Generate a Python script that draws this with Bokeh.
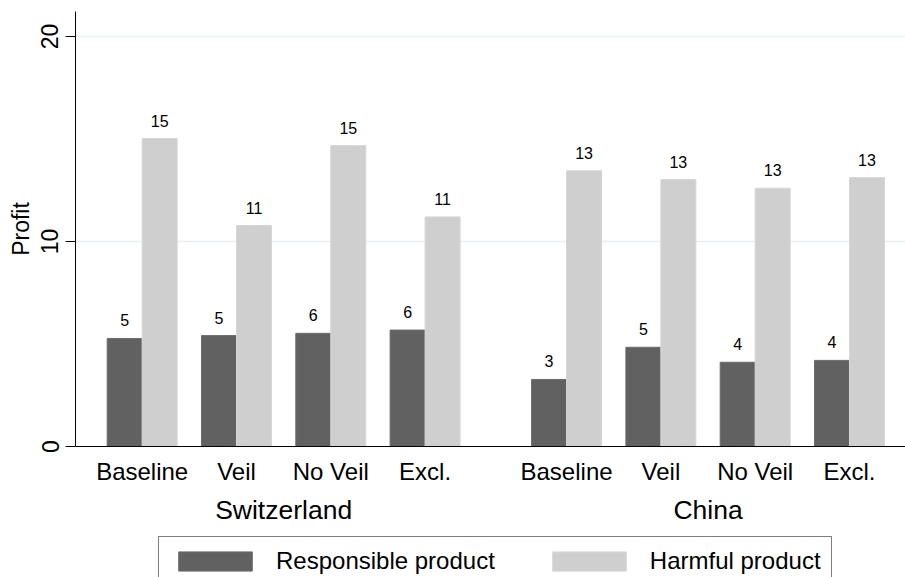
from bokeh.plotting import figure
from bokeh.models import (ColumnDataSource, FixedTicker, LinearAxis, Range1d,
                          Legend, LegendItem, LabelSet)
from bokeh.layouts import column
from bokeh.core.properties import value
from bokeh.embed import file_html
from bokeh.resources import INLINE

# ---- data ----
countries = ["Switzerland", "China"]
treatments = ["Baseline", "Veil", "No Veil", "Excl."]
responsible_switzerland = [5.27, 5.41, 5.52, 5.68]
responsible_china = [3.27, 4.84, 4.11, 4.20]
harmful_switzerland = [15.02, 10.78, 14.68, 11.20]
harmful_china = [13.45, 13.02, 12.60, 13.12]
series_names = ["Responsible product", "Harmful product"]
y_ticks = [0, 10, 20]

FONT = "Liberation Sans"
DARK = "#616161"
LIGHT = "#cfcfcf"

n = len(treatments)
gap = 0.5
bar_w = 0.371
pos = [i + g * (n + gap) for g in range(len(countries)) for i in range(n)]
group_centers = [g * (n + gap) + (n - 1) / 2 for g in range(len(countries))]
responsible = responsible_switzerland + responsible_china
harmful = harmful_switzerland + harmful_china

src_r = ColumnDataSource(dict(
    x=[p - bar_w / 2 for p in pos], top=responsible,
    lab=["{:.0f}".format(v) for v in responsible]))
src_h = ColumnDataSource(dict(
    x=[p + bar_w / 2 for p in pos], top=harmful,
    lab=["{:.0f}".format(v) for v in harmful]))

p = figure(width=905, height=536, output_backend="svg", toolbar_location=None,
           x_range=Range1d(-0.707, 8.094), y_range=Range1d(0, 21.22),
           min_border_left=75, min_border_right=0, min_border_top=11,
           min_border_bottom=90)
p.outline_line_color = None
p.background_fill_color = "white"
p.border_fill_color = "white"

p.vbar(x="x", top="top", bottom=0, width=bar_w, source=src_r,
       fill_color=DARK, line_color="#6c6c6c", line_width=1)
p.vbar(x="x", top="top", bottom=0, width=bar_w, source=src_h,
       fill_color=LIGHT, line_color="#d6d6d6", line_width=1)

for s in (src_r, src_h):
    p.add_layout(LabelSet(x="x", y="top", text="lab", source=s,
                          text_align="center", text_baseline="alphabetic",
                          y_offset=12, text_font=value(FONT),
                          text_font_size=value("16px"),
                          text_color="black"))

# grid
p.xgrid.visible = False
p.ygrid.ticker = FixedTicker(ticks=y_ticks)
p.ygrid.grid_line_color = "#e8f0f2"
p.ygrid.grid_line_width = 1.5

# y axis
ya = p.yaxis[0]
ya.ticker = FixedTicker(ticks=y_ticks)
ya.axis_label = "Profit"
ya.axis_label_text_font = FONT
ya.axis_label_text_font_size = "23px"
ya.axis_label_text_font_style = "normal"
ya.axis_label_text_color = "black"
ya.axis_label_standoff = 5
ya.major_label_text_font = FONT
ya.major_label_text_font_size = "23px"
ya.major_label_text_color = "black"
ya.major_label_orientation = "vertical"
ya.major_label_standoff = 7
ya.major_tick_out = 10
ya.major_tick_in = 0
ya.minor_tick_line_color = None
ya.axis_line_color = "black"
ya.major_tick_line_color = "black"

# x axis (treatments)
xa = p.xaxis[0]
xa.ticker = FixedTicker(ticks=pos)
xa.major_label_overrides = {pp: t for pp, t in zip(pos, treatments * len(countries))}
xa.major_label_text_font = FONT
xa.major_label_text_font_size = "24px"
xa.major_label_text_color = "black"
xa.major_label_standoff = 11
xa.major_tick_line_color = None
xa.minor_tick_line_color = None
xa.major_tick_out = 0
xa.axis_line_color = "black"

# x axis (countries)
xa2 = LinearAxis(ticker=FixedTicker(ticks=group_centers),
                 major_label_overrides={c: name for c, name in zip(group_centers, countries)})
xa2.major_label_text_font = FONT
xa2.major_label_text_font_size = "26.5px"
xa2.major_label_text_color = "black"
xa2.major_label_standoff = 7
xa2.axis_line_color = None
xa2.major_tick_line_color = None
xa2.minor_tick_line_color = None
xa2.major_tick_out = 0
p.add_layout(xa2, "below")

# ---- legend strip (its frame is aligned with the main frame by column) ----
lf = figure(width=905, height=41, output_backend="svg", toolbar_location=None,
            x_axis_type=None, y_axis_type=None,
            x_range=Range1d(100, 101), y_range=Range1d(100, 101),
            min_border_left=75, min_border_right=0, min_border_top=0,
            min_border_bottom=0)
lf.outline_line_color = None
lf.grid.visible = False
lf.border_fill_color = "white"
lr1 = lf.vbar(x="x", top="top", bottom=0, width=bar_w, source=src_r,
              fill_color=DARK, line_color="#6c6c6c", line_width=1)
lr2 = lf.vbar(x="x", top="top", bottom=0, width=bar_w, source=src_h,
              fill_color=LIGHT, line_color="#d6d6d6", line_width=1)
legend = Legend(items=[LegendItem(label=series_names[0], renderers=[lr1]),
                       LegendItem(label=series_names[1], renderers=[lr2])],
                orientation="horizontal", location=(83, -9), margin=0,
                padding=10, spacing=48, label_standoff=15,
                glyph_width=92, glyph_height=24,
                label_text_font=FONT, label_text_font_size="24px",
                label_text_color="black",
                border_line_color="black", border_line_width=1,
                background_fill_color="white", background_fill_alpha=1)
lf.add_layout(legend, "center")

open("out.html", "w").write(file_html(column(p, lf, spacing=0), INLINE))
